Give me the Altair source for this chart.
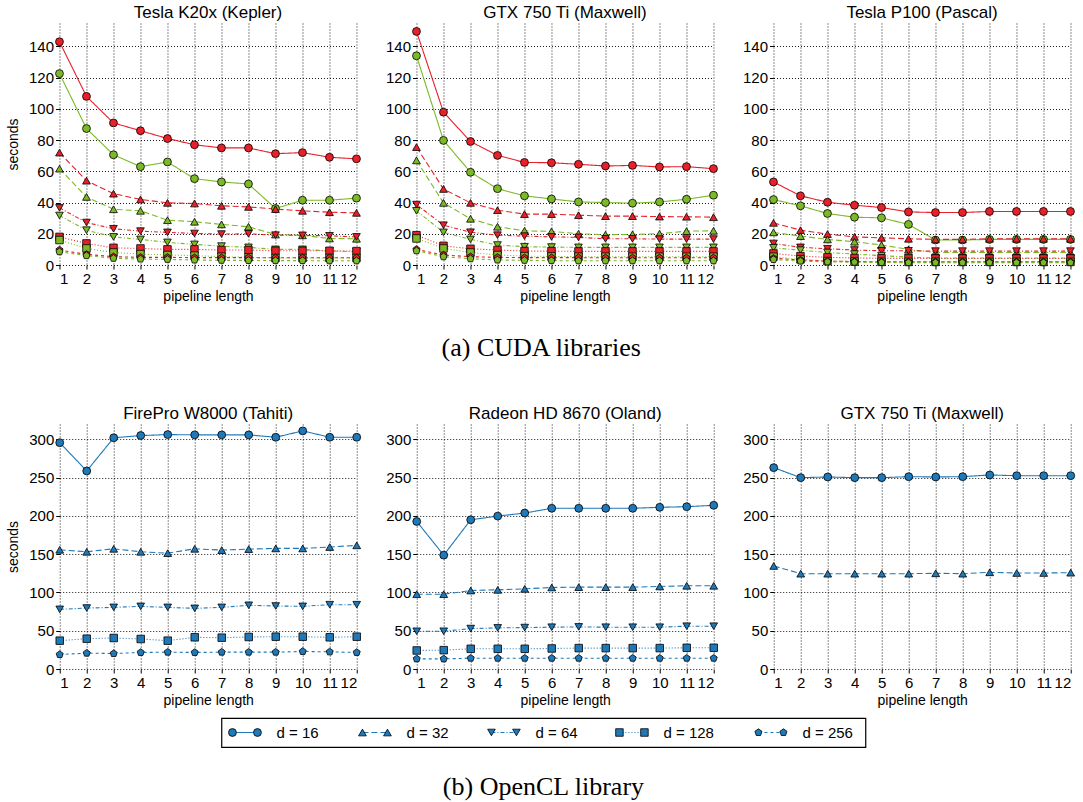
import altair as alt
import pandas as pd

# ---------------- data ----------------
X_VALUES = list(range(1, 13))
D_VALUES = [16, 32, 64, 128, 256]
D_LABELS = ["d = 16", "d = 32", "d = 64", "d = 128", "d = 256"]
LIBS = ["red library", "green library", "OpenCL"]

# (a) CUDA libraries: red library / green library, seconds per d
K20X_RED = {
    16: [143, 108, 91, 86, 81, 77, 75, 75, 71.3, 72, 69, 68],
    32: [72, 54, 45.7, 42, 39.8, 39.4, 37.9, 37.2, 35.8, 34.7, 33.8, 33.4],
    64: [36.6, 27.2, 23.2, 21.7, 20.9, 20.2, 19.8, 20, 19.1, 19, 18.7, 18],
    128: [18, 13.8, 11, 10.6, 10, 10, 9.6, 9.6, 9.1, 9.1, 9.1, 8.9],
    256: [9.6, 6.8, 5.3, 4.9, 4.9, 4.7, 4.7, 4.7, 4.6, 4.6, 4.6, 4.6],
}
K20X_GREEN = {
    16: [122.6, 87.4, 70.6, 63, 66, 55.3, 53.2, 51.9, 36.2, 41.5, 41.5, 42.8],
    32: [61.7, 43.6, 35.7, 34.7, 28.7, 27.7, 26, 24.5, 19.5, 19, 17, 16.8],
    64: [31.7, 22.3, 18, 16.4, 14.5, 13.2, 12.1, 11.3, 10, 10, 9, 8.5],
    128: [16, 10.6, 8, 7, 6.4, 6, 5.3, 4.9, 4.5, 4.5, 4.5, 4.5],
    256: [8.5, 6, 4.3, 3.8, 3.6, 3.2, 3, 2.9, 2.8, 2.8, 2.7, 2.7],
}
GTX750_RED = {
    16: [149.6, 97.9, 79.1, 70.2, 65.7, 65.5, 64.5, 63.4, 63.8, 62.8, 63, 61.7],
    32: [75.5, 48.7, 39.8, 35.1, 32.6, 32.6, 31.9, 31.3, 31.3, 31, 30.9, 30.6],
    64: [38.7, 25.5, 21, 19.1, 18.5, 18, 17.7, 16.8, 16.8, 16.6, 16.6, 16.6],
    128: [19.1, 12.3, 10.4, 9.6, 8.9, 8.9, 8.7, 8.7, 8.7, 8.7, 8.7, 8.7],
    256: [10, 6.4, 5.3, 4.9, 4.7, 4.7, 4.7, 4.6, 4.6, 4.6, 4.6, 4.6],
}
GTX750_GREEN = {
    16: [134, 79.8, 59.4, 48.9, 44.3, 42.3, 40.4, 40, 39.6, 40.4, 42.1, 44.7],
    32: [67, 39.8, 29.6, 24.5, 21.9, 21.5, 20, 19.4, 19.6, 20, 21.7, 21.9],
    64: [34.7, 20.9, 16.4, 12.8, 11.7, 11.5, 11.3, 11.3, 11.3, 11.3, 11.3, 11.3],
    128: [17, 10.6, 8, 6.4, 5.7, 5.5, 5.3, 5.3, 5.3, 5.3, 5.3, 5.3],
    256: [9.1, 5.3, 4, 3.2, 3, 2.8, 2.7, 2.7, 2.7, 2.7, 2.7, 2.7],
}
P100_RED = {
    16: [53.2, 44.3, 40.2, 38.3, 36.8, 34, 33.6, 33.6, 34.3, 34.3, 34.3, 34.3],
    32: [27, 22.3, 19.8, 18, 17.4, 16.8, 16.4, 16.4, 16.8, 16.8, 16.8, 16.8],
    64: [13.8, 11.3, 10.4, 9.6, 9.1, 9.1, 8.9, 8.9, 8.9, 8.9, 8.9, 8.9],
    128: [7.4, 5.7, 4.9, 4.5, 4.3, 4.2, 4.2, 4.2, 4.2, 4.2, 4.2, 4.2],
    256: [4.3, 3.2, 2.5, 2.2, 2, 2, 2, 2, 2, 2, 2, 2],
}
P100_GREEN = {
    16: [41.9, 37.9, 33, 30.6, 30.2, 26, 16, 16, 16.4, 16.4, 16.4, 16.4],
    32: [20.9, 18.5, 16.4, 14.9, 12.8, 10, 8, 8, 8, 8, 8, 8],
    64: [11, 9.5, 8, 7, 6, 5, 4.5, 4.5, 4.5, 4.5, 4.5, 4.5],
    128: [5.3, 3.6, 2.5, 2.2, 2, 2, 2, 2, 2, 2, 2, 2],
    256: [3.5, 2.5, 2, 1.8, 1.6, 1.5, 1.5, 1.5, 1.5, 1.5, 1.5, 1.5],
}

# (b) OpenCL library
FIREPRO = {
    16: [295.6, 258.7, 302, 304.9, 306.2, 305.8, 305.8, 305.8, 302.7, 311, 302.7, 302.7],
    32: [155.7, 153.1, 157, 153.1, 151.3, 157, 155.3, 156.6, 157.5, 157.5, 159.3, 161.5],
    64: [77.9, 79.6, 80.5, 81.8, 80.5, 79.2, 80.5, 83.2, 82.3, 81.8, 84, 84],
    128: [37, 39.6, 40.5, 39.2, 37, 41.4, 40.9, 41.8, 42.2, 42.2, 41.4, 42.2],
    256: [18.9, 20.7, 20.2, 21.6, 22, 21.6, 22, 22, 22, 22.9, 22.4, 21.6],
}
RADEON = {
    16: [192.7, 148.7, 194.9, 199.7, 203.7, 209.9, 209.9, 209.9, 209.9, 211.2, 212, 213.8],
    32: [97.7, 97.7, 102.5, 103.4, 104.7, 106.5, 106.9, 106.9, 106.9, 107.8, 108.7, 108.7],
    64: [49.3, 49.3, 52.8, 53.7, 54.1, 54.6, 55, 54.6, 54.6, 54.6, 55.9, 55.9],
    128: [24.2, 24.6, 26.4, 26.4, 26.4, 26.8, 27.3, 27.3, 27.3, 27.3, 27.7, 27.7],
    256: [13.2, 13.2, 14.1, 14.1, 14.1, 14.1, 14.1, 14.1, 14.1, 14.1, 14.1, 14.1],
}
GTX750_OCL = {
    16: [263, 249.9, 250.8, 249.9, 249.9, 251.2, 250.8, 251.2, 253.4, 252.5, 252.5, 252.5],
    32: [134.6, 124.5, 124.5, 124.5, 124.5, 124.5, 125, 124.5, 126.3, 125.4, 125.4, 125.8],
}

CUDA_TITLES = ["Tesla K20x (Kepler)", "GTX 750 Ti (Maxwell)", "Tesla P100 (Pascal)"]
OCL_TITLES = ["FirePro W8000 (Tahiti)", "Radeon HD 8670 (Oland)", "GTX 750 Ti (Maxwell)"]

# ---------------- styles ----------------
RED = "#e8202a"
GREEN = "#7cb928"
BLUE = "#1f78b8"
LIB_COLORS = [RED, GREEN, BLUE]
PENTAGON = "M0,-1L0.951,-0.309L0.588,0.809L-0.588,0.809L-0.951,-0.309Z"
SHAPES = ["circle", "triangle-up", "triangle-down", "square", PENTAGON]
DASHES = [[1, 0], [6, 3], [4, 2, 1, 2], [1, 2], [3, 3]]
SIZES = [62, 55, 55, 50, 42]
SANS = "Liberation Sans"
SERIF = "Liberation Serif"

PANEL_W = 297


def long_table(series_list):
    rows = []
    for k, d in enumerate(D_VALUES):
        for lib, values in series_list:
            if d not in values:
                continue
            for x, y in zip(X_VALUES, values[d]):
                rows.append({"lib": lib, "d": D_LABELS[k], "x": x, "y": y,
                             "series": f"{lib}-{d}"})
    return pd.DataFrame(rows)


def panel(df, title, ymax, ystep, ytick_max, show_ytitle, height):
    x_enc = alt.X("x:Q", scale=alt.Scale(domain=[1, 12], nice=False, zero=False),
                  axis=alt.Axis(values=X_VALUES, title="pipeline length"))
    y_enc = alt.Y("y:Q", scale=alt.Scale(domain=[0, ymax], nice=False),
                  axis=alt.Axis(values=list(range(0, ytick_max + 1, ystep)),
                                title="seconds" if show_ytitle else ""))
    dash = alt.StrokeDash("d:N", scale=alt.Scale(domain=D_LABELS, range=DASHES), legend=None)
    col = alt.Color("lib:N", scale=alt.Scale(domain=LIBS, range=LIB_COLORS), legend=None)
    fill = alt.Fill("lib:N", scale=alt.Scale(domain=LIBS, range=LIB_COLORS), legend=None)
    shape = alt.Shape("d:N", scale=alt.Scale(domain=D_LABELS, range=SHAPES), legend=None)
    size = alt.Size("d:N", scale=alt.Scale(domain=D_LABELS, range=SIZES), legend=None)
    lines = alt.Chart(df).mark_line(strokeWidth=1.1).encode(
        x=x_enc, y=y_enc, color=col, strokeDash=dash, detail="series:N")
    points = alt.Chart(df).mark_point(filled=True, stroke="black", strokeWidth=0.8,
                                      opacity=1).encode(
        x=x_enc, y=y_enc, fill=fill, shape=shape, size=size)
    return alt.layer(lines, points).properties(width=PANEL_W, height=height, title=title)


cuda_sets = [(K20X_RED, K20X_GREEN), (GTX750_RED, GTX750_GREEN), (P100_RED, P100_GREEN)]
cuda_panels = []
for i, (r, g) in enumerate(cuda_sets):
    df = long_table([(LIBS[0], r), (LIBS[1], g)])
    cuda_panels.append(panel(df, CUDA_TITLES[i], 155, 20, 140, i == 0, 242))

ocl_sets = [FIREPRO, RADEON, GTX750_OCL]
ocl_panels = []
for i, s in enumerate(ocl_sets):
    df = long_table([(LIBS[2], s)])
    ocl_panels.append(panel(df, OCL_TITLES[i], 320, 50, 300, i == 0, 245))

row1 = alt.hconcat(*cuda_panels, spacing=60, bounds="flush",
                   title=alt.TitleParams("(a) CUDA libraries", orient="bottom", anchor="middle",
                                         font=SERIF, fontSize=26, fontWeight="normal",
                                         color="black", offset=31))
row2 = alt.hconcat(*ocl_panels, spacing=60, bounds="flush")

# ---------------- manual legend ----------------
LEGEND_W = 644
LEGEND_H = 29
ITEM_OFFSETS = [11, 141, 270, 398, 537]   # layout: left marker of each entry
MARKER_GAP = 25
TEXT_GAP = 44
RIGHT_PAD = 48                            # invisible spacer to shift the centred legend
leg_rows = []
for k, lab in enumerate(D_LABELS):
    x0 = ITEM_OFFSETS[k]
    leg_rows.append({"d": lab, "xa": x0, "xb": x0 + MARKER_GAP, "xt": x0 + TEXT_GAP})
leg_df = pd.DataFrame(leg_rows)
leg_pts = pd.concat([leg_df.assign(xp=leg_df["xa"]), leg_df.assign(xp=leg_df["xb"])])
spacer_df = pd.DataFrame({"xs": [LEGEND_W + RIGHT_PAD]})

lx = alt.Scale(domain=[0, LEGEND_W], nice=False, zero=False)
leg_lines = alt.Chart(leg_df).mark_rule(strokeWidth=1.1, color=BLUE).encode(
    x=alt.X("xa:Q", scale=lx, axis=None), x2="xb:Q", y=alt.value(LEGEND_H / 2),
    strokeDash=alt.StrokeDash("d:N", scale=alt.Scale(domain=D_LABELS, range=DASHES), legend=None))
leg_marks = alt.Chart(leg_pts).mark_point(filled=True, fill=BLUE, stroke="black",
                                          strokeWidth=0.8, opacity=1).encode(
    x=alt.X("xp:Q", scale=lx, axis=None), y=alt.value(LEGEND_H / 2),
    shape=alt.Shape("d:N", scale=alt.Scale(domain=D_LABELS, range=SHAPES), legend=None),
    size=alt.Size("d:N", scale=alt.Scale(domain=D_LABELS, range=[32, 32, 32, 30, 26]), legend=None))
leg_text = alt.Chart(leg_df).mark_text(align="left", baseline="middle", font=SANS,
                                       fontSize=15, color="black").encode(
    x=alt.X("xt:Q", scale=lx, axis=None), y=alt.value(LEGEND_H / 2), text="d:N")
leg_spacer = alt.Chart(spacer_df).mark_point(opacity=0, size=4).encode(
    x=alt.X("xs:Q", scale=lx, axis=None), y=alt.value(LEGEND_H / 2))

legend = alt.layer(leg_lines, leg_marks, leg_text, leg_spacer).properties(
    width=LEGEND_W, height=LEGEND_H,
    view=alt.ViewBackground(stroke="black", strokeWidth=1.2),
    title=alt.TitleParams("(b) OpenCL library", orient="bottom", anchor="middle",
                          font=SERIF, fontSize=26, fontWeight="normal", color="black",
                          offset=27))

lower = alt.vconcat(row2, legend, spacing=9, center=True)
chart = alt.vconcat(row1, lower, spacing=43, center=True).configure(
    padding={"left": 5, "top": 3, "right": 5, "bottom": 5}
).configure_view(stroke="transparent").configure_title(
    font=SANS, fontSize=17, fontWeight="normal", color="black", offset=1
).configure_axis(
    grid=True, gridColor="black", gridDash=[1, 2], gridOpacity=1, gridWidth=0.9,
    domain=False, ticks=True, tickColor="black", tickSize=4,
    labelFont=SANS, labelFontSize=15, labelColor="black", labelPadding=2,
    titleFont=SANS, titleFontSize=14, titleFontWeight="normal", titleColor="black",
    titlePadding=3,
).configure_axisY(labelPadding=2, titlePadding=8)

chart.save("out.html", embed_options={"renderer": "svg", "actions": False})
